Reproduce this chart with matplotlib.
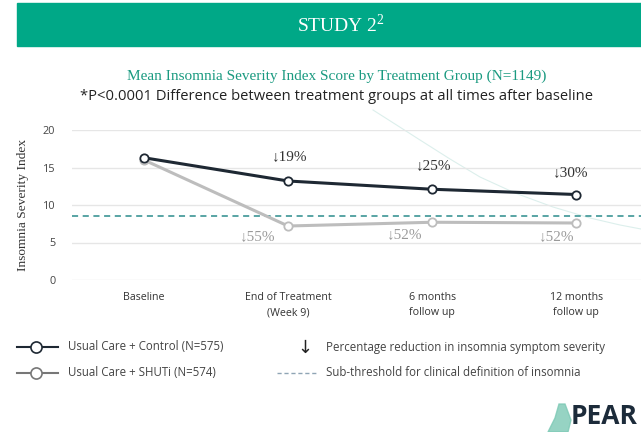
import numpy as np
import matplotlib
matplotlib.use('Agg')
import matplotlib.pyplot as plt
from matplotlib.lines import Line2D
from matplotlib.patches import Polygon

# data
timepoints = ['Baseline', 'End of Treatment\n(Week 9)', '6 months\nfollow up', '12 months\nfollow up']
control = [16.3, 13.2, 12.1, 11.4]
shuti = [16.0, 7.2, 7.7, 7.6]
control_red = ['', '\u219319%', '\u219325%', '\u219330%']
shuti_red = ['', '\u219355%', '\u219352%', '\u219352%']
threshold = 8.6
yticks = [0, 5, 10, 15, 20]

dark = '#1e2833'
grey = '#bdbdbd'
teal = '#2b8c8c'
green = '#00a887'
sans = ['Open Sans', 'DejaVu Sans']
serif = ['Liberation Serif', 'DejaVu Serif']

W, H = 641, 432
fig = plt.figure(figsize=(W/100, H/100), dpi=100)

def fx(px):
    return px / W

def fy(py):
    return 1 - py / H

# green banner
fig.patches.append(plt.Rectangle((fx(17), fy(46)), 1 - fx(17), (46-3)/H,
                                 transform=fig.transFigure, color=green, zorder=0))
fig.text(fx(341), fy(25), 'STUDY 2$^{\\mathregular{2}}$', color='white', ha='center', va='center',
         fontsize=14, family=serif)
fig.text(fx(337), fy(76), 'Mean Insomnia Severity Index Score by Treatment Group (N=1149)',
         color='#1a9a80', ha='center', va='center', fontsize=11, family=serif)
fig.text(fx(337), fy(97), '*P<0.0001 Difference between treatment groups at all times after baseline',
         color='#222222', ha='center', va='center', fontsize=10.6, family=sans)

# faint decorative arc in the background
arc_x = [373, 395, 420, 450, 480, 515, 553, 590, 620, 641]
arc_y = [110, 124, 140, 159, 177, 193, 207, 218, 225, 229]
fig.add_artist(Line2D([fx(v) for v in arc_x], [fy(v) for v in arc_y], transform=fig.transFigure,
                      color='#dcefec', linewidth=0.8, zorder=0))

# main axes
ax = fig.add_axes([fx(72), fy(280), 1 - fx(72), (280-130)/H])
ax.patch.set_alpha(0)
x = np.arange(len(timepoints))
ax.set_xlim(-0.5, 3.45)
ax.set_ylim(0, 20)
for s in ax.spines.values():
    s.set_visible(False)
ax.set_yticks(yticks)
ax.yaxis.grid(True, color='#e6e6e6', linewidth=1.0)
ax.set_axisbelow(True)
ax.tick_params(axis='y', length=0, pad=12, labelsize=7.8, labelcolor='#444444')
ax.tick_params(axis='x', length=0, pad=9, labelsize=7.7, labelcolor='#333333')
ax.set_xticks(x)
ax.set_xticklabels(timepoints, family=sans, linespacing=1.45)
for lbl in ax.get_yticklabels():
    lbl.set_family(sans)
ax.set_ylabel('Insomnia Severity Index', family=serif, fontsize=9.6, color='#333333', labelpad=10)

ax.axhline(threshold, color=teal, linestyle=(0, (4, 3)), linewidth=1.1, zorder=1)
ax.plot(x, shuti, color=grey, linewidth=2.2, marker='o', markersize=6,
        markerfacecolor='white', markeredgecolor=grey, markeredgewidth=1.3, zorder=3, clip_on=False)
ax.plot(x, control, color=dark, linewidth=2.2, marker='o', markersize=6,
        markerfacecolor='white', markeredgecolor=dark, markeredgewidth=1.3, zorder=4, clip_on=False)

ctrl_off = [None, (1, 13), (1, 12), (-4, 11)]
shuti_off = [None, (-22, -3), (-20, -4), (-14, -5)]
for i in range(1, len(x)):
    ax.annotate(control_red[i], (x[i], control[i]), xytext=ctrl_off[i], textcoords='offset points',
                ha='center', va='bottom', fontsize=11, color='#333333', family=serif)
    ax.annotate(shuti_red[i], (x[i], shuti[i]), xytext=shuti_off[i], textcoords='offset points',
                ha='center', va='top', fontsize=11, color='#9a9a9a', family=serif)

# legend
def legline(px0, px1, py, **kw):
    fig.add_artist(Line2D([fx(px0), fx(px1)], [fy(py), fy(py)], transform=fig.transFigure, **kw))

legline(17, 58, 347, color=dark, linewidth=1.5)
fig.add_artist(Line2D([fx(36)], [fy(347)], transform=fig.transFigure, marker='o', markersize=8,
                      markerfacecolor='white', markeredgecolor=dark, markeredgewidth=1.2))
legline(17, 58, 373, color='#777777', linewidth=1.5)
fig.add_artist(Line2D([fx(36)], [fy(373)], transform=fig.transFigure, marker='o', markersize=8,
                      markerfacecolor='white', markeredgecolor='#777777', markeredgewidth=1.2))
fig.text(fx(68), fy(347), 'Usual Care + Control (N=575)', fontsize=8.3, va='center', color='#444444', family=sans)
fig.text(fx(68), fy(373), 'Usual Care + SHUTi (N=574)', fontsize=8.3, va='center', color='#444444', family=sans)

fig.text(fx(305), fy(348), '\u2193', fontsize=13, ha='center', va='center', color='#222222', family=sans)
fig.text(fx(326), fy(347), 'Percentage reduction in insomnia symptom severity', fontsize=8.3,
         va='center', color='#444444', family=sans)
legline(277, 318, 373, color='#8fa5b5', linewidth=1.0, linestyle=(0, (3, 2)))
fig.text(fx(326), fy(373), 'Sub-threshold for clinical definition of insomnia', fontsize=8.3,
         va='center', color='#444444', family=sans)

# logo
pear_x = [548, 555, 559, 565, 571, 568, 558]
pear_y = [432, 418, 404, 404, 420, 432, 432]
fig.patches.append(Polygon(list(zip([fx(v) for v in pear_x], [fy(v) for v in pear_y])),
                           closed=True, transform=fig.transFigure, color='#7cc9b5', alpha=0.8))
fig.text(fx(571), fy(417), 'PEAR', fontsize=19, fontweight='bold', va='center', color='#1c2b3a', family=sans)

fig.savefig('out.png', dpi=100)
